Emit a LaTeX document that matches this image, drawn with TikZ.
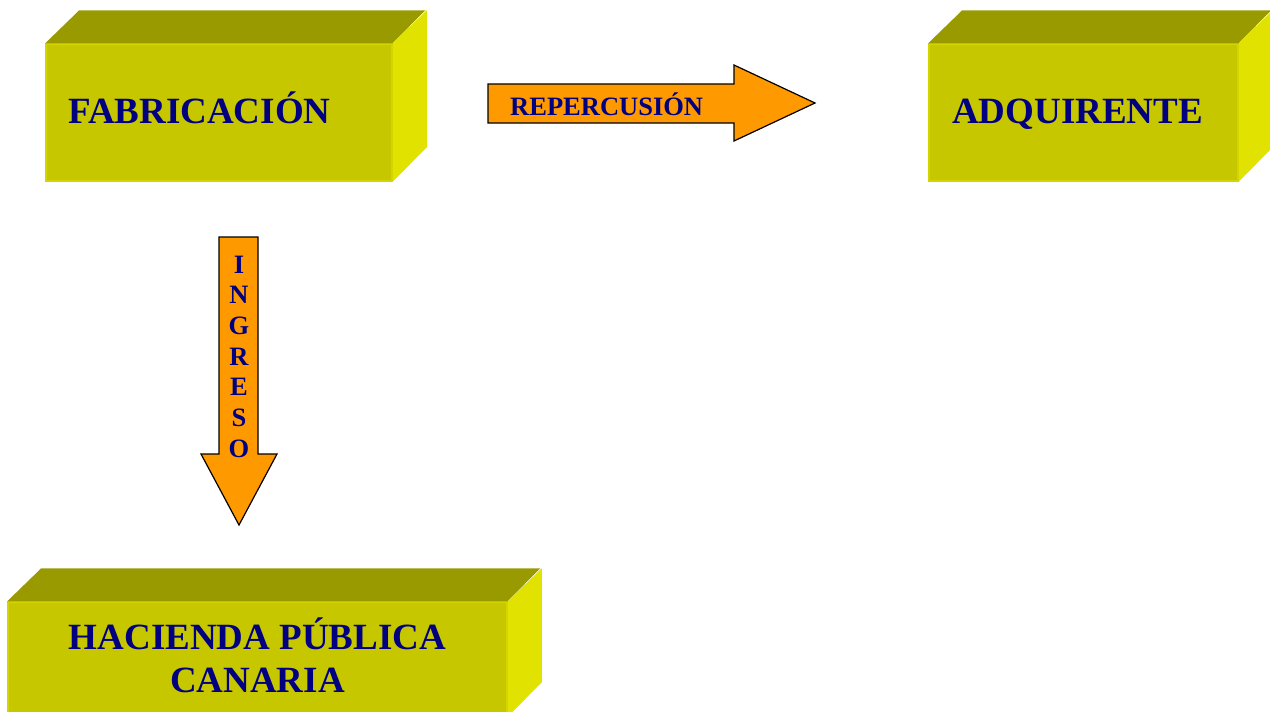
\documentclass[tikz,border=0pt]{standalone}
\usepackage{fontspec}
\setmainfont{Liberation Serif}
\definecolor{frontc}{RGB}{199,199,0}
\definecolor{edgec}{RGB}{212,212,0}
\definecolor{topc}{RGB}{153,153,0}
\definecolor{sidec}{RGB}{226,226,0}
\definecolor{arrowc}{RGB}{255,153,0}
\definecolor{navy}{RGB}{0,0,128}
\tikzset{
  frontface/.style={rectangle, fill=frontc, draw=edgec, line width=1.5pt, inner sep=0pt},
  topface/.style={fill=topc},
  sideface/.style={fill=sidec},
  blockarrow/.style={fill=arrowc, draw=black, line width=1.2pt, line join=miter},
  bigtext/.style={text=navy, inner sep=0pt, font=\fontsize{37}{43}\selectfont\bfseries},
  smalltext/.style={text=navy, inner sep=0pt, font=\fontsize{26.5}{30}\selectfont\bfseries},
}
\begin{document}
\begin{tikzpicture}[x=1pt,y=-1pt]
\useasboundingbox (0,0) rectangle (1270,712);
% box 1
\node[frontface, minimum width=346pt, minimum height=137pt] (fab) at (219,112.5) {};
\fill[topface] (fab.north west) -- ++(34,-33) -- ++(346,0) -- (fab.north east) -- cycle;
\fill[sideface] (fab.north east) -- ++(34,-33) -- ++(0,137) -- (fab.south east) -- cycle;
\node[bigtext, anchor=base west] (fabt) at (68,123) {FABRICACIÓN};
% box 2
\node[frontface, minimum width=309pt, minimum height=137pt] (adq) at (1083.5,112.5) {};
\fill[topface] (adq.north west) -- ++(34,-33) -- ++(309,0) -- (adq.north east) -- cycle;
\fill[sideface] (adq.north east) -- ++(34,-33) -- ++(0,137) -- (adq.south east) -- cycle;
\node[bigtext, anchor=base west] (adqt) at (952,123) {ADQUIRENTE};
% box 3
\node[frontface, minimum width=499pt, minimum height=114pt] (hac) at (257.5,659) {};
\fill[topface] (hac.north west) -- ++(34,-33) -- ++(499,0) -- (hac.north east) -- cycle;
\fill[sideface] (hac.north east) -- ++(34,-33) -- ++(0,114) -- (hac.south east) -- cycle;
\node[bigtext, anchor=base] (hact1) at (257.5,649) {HACIENDA PÚBLICA};
\node[bigtext, anchor=base] (hact2) at (257.5,692) {CANARIA};
% right arrow
\draw[blockarrow] (488,84) -- (734,84) -- (734,65) -- (815,103) -- (734,141) -- (734,123) -- (488,123) -- cycle;
\node[smalltext, anchor=base west] (rep) at (510,115) {REPERCUSIÓN};
% down arrow
\draw[blockarrow] (219,237) -- (258,237) -- (258,454) -- (277,454) -- (239,525) -- (201,454) -- (219,454) -- cycle;
\foreach \l [count=\i from 0] in {I,N,G,R,E,S,O} {
  \node[smalltext, anchor=base] (ing\i) at (239,273+30.7*\i) {\l};
}
\end{tikzpicture}
\end{document}
